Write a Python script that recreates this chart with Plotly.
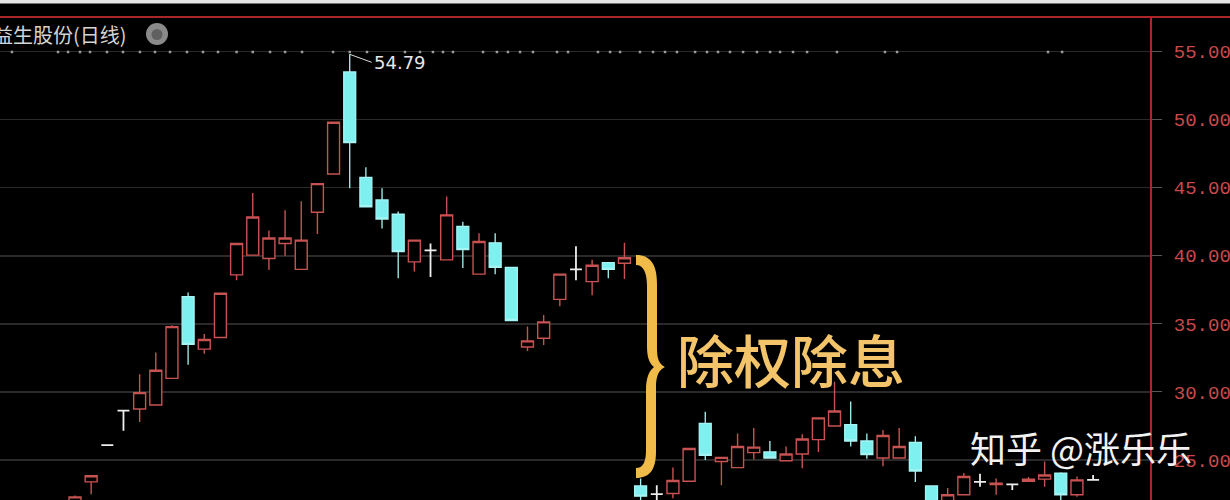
import plotly.graph_objects as go

# ---------------- data ----------------
idx = list(range(64))
opens = [21.8, 23.4, 26.1, 28.63, 28.75, 29.05, 31.0, 37.0, 33.15, 34.0,
         38.6, 40.05, 39.8, 40.9, 39.0, 43.2, 46.0, 53.5, 45.75, 44.1,
         43.05, 39.55, 40.4, 39.7, 42.15, 38.65, 40.95, 39.15, 33.3, 33.95,
         36.8, 39.0, 38.1, 39.5, 39.45, 23.1, 22.5, 22.55, 23.45, 27.7,
         24.9, 24.45, 25.55, 25.6, 24.95, 25.45, 26.5, 27.5, 27.6, 26.4,
         25.15, 25.15, 26.3, 23.1, 21.9, 22.45, 23.4, 23.2, 23.22, 23.45,
         23.6, 24.05, 22.45, 23.55]
highs = [22.4, 23.9, 26.1, 28.63, 31.3, 32.9, 34.9, 37.3, 34.25, 37.3,
         40.95, 44.6, 41.85, 43.35, 44.0, 45.35, 49.85, 54.79, 46.5, 44.95,
         43.25, 41.2, 40.9, 44.35, 42.5, 41.65, 41.65, 39.2, 34.8, 35.65,
         38.7, 40.7, 39.7, 39.55, 40.95, 23.65, 23.15, 24.45, 25.9, 28.55,
         25.25, 26.95, 27.35, 26.4, 26.0, 26.9, 28.15, 30.75, 29.3, 26.95,
         27.2, 27.35, 26.75, 23.15, 22.95, 24.05, 24.0, 23.65, 23.22, 23.75,
         24.9, 24.1, 23.8, 23.9]
lows = [21.5, 22.5, 26.1, 27.15, 27.8, 29.0, 30.95, 32.0, 32.8, 33.95,
        38.2, 40.0, 38.95, 40.0, 39.0, 41.6, 45.95, 44.95, 43.55, 42.0,
        38.35, 38.85, 38.45, 39.65, 39.1, 38.6, 38.65, 35.2, 33.0, 33.45,
        36.3, 38.2, 37.1, 38.35, 38.3, 22.0, 22.0, 22.2, 23.4, 25.0,
        23.15, 24.4, 25.05, 25.1, 24.9, 24.4, 25.6, 27.45, 26.0, 25.1,
        24.55, 25.1, 23.4, 21.5, 21.8, 22.4, 23.05, 22.45, 22.8, 23.4,
        23.05, 22.0, 22.3, 23.55]
closes = [22.3, 23.85, 26.1, 28.63, 29.95, 31.6, 34.8, 33.5, 33.85, 37.25,
          40.9, 42.85, 41.3, 41.3, 41.15, 45.3, 49.8, 48.3, 43.6, 42.7,
          40.3, 41.15, 40.4, 43.0, 40.45, 41.05, 39.15, 35.25, 33.75, 35.15,
          38.65, 39.0, 39.3, 39.0, 39.85, 22.35, 22.5, 23.5, 25.85, 25.35,
          25.2, 26.0, 25.95, 25.15, 25.45, 26.55, 28.1, 28.6, 26.4, 25.4,
          26.8, 26.0, 24.2, 21.8, 22.45, 23.8, 23.4, 23.3, 23.22, 23.6,
          23.9, 22.45, 23.55, 23.55]

y_ticks = [25, 30, 35, 40, 45, 50, 55]
y_tick_labels = ["25.00", "30.00", "35.00", "40.00", "45.00", "50.00", "55.00"]

peak_index = 17
peak_label = "54.79"

marker_pos = [-3.9, -1.05, -0.43, 0.31, 0.93, 1.98, 2.97, 4.02, 4.95, 5.88,
              6.93, 7.92, 8.85, 10.0, 11.0, 12.07, 13.0, 14.05, 15.97, 17.0,
              18.07, 20.42, 21.35, 22.15, 22.77, 23.39, 25.25, 26.11, 26.79,
              27.54, 28.34, 29.83, 30.51, 32.36, 33.11, 33.73, 34.96, 35.77,
              36.51, 37.25, 38.37, 39.11, 39.79, 40.53, 41.34, 42.2, 43.01,
              43.63, 44.43, 45.3, 47.15, 50.12, 50.87, 60.21, 61.08]

title_text = "益生股份(日线)"
event_text = "除权除息"
watermark_text = "知乎 @涨乐乐"

# ---------------- layout geometry ----------------
W, H = 1230, 500
ML, MR, MT, MB = 0, 80, 17, 0
PW = W - ML - MR
PH = H - MT - MB
X_RANGE = [-4.64, 66.52]
Y_RANGE = [22.07, 57.53]


def px(x):
    return (x - ML) / PW


def py(y):
    return (H - MB - y) / PH


RED = "#c85252"
CYAN = "#7ff0f0"
CYAN_LINE = "#a6f4f4"
WHITE = "#eeeeee"
GOLD = "#f1bb4a"


def subset(cond):
    s = [i for i in idx if cond(opens[i], closes[i])]
    return dict(x=s,
                open=[opens[i] for i in s],
                high=[highs[i] for i in s],
                low=[lows[i] for i in s],
                close=[closes[i] for i in s])


up = subset(lambda o, c: c > o)
down = subset(lambda o, c: c < o)
flat = subset(lambda o, c: c == o)

fig = go.Figure()

# marker row near the top
mark_y = Y_RANGE[1] - (52 - MT) / PH * (Y_RANGE[1] - Y_RANGE[0])
fig.add_trace(go.Scatter(x=marker_pos, y=[mark_y] * len(marker_pos), mode="markers",
                         marker=dict(symbol="square", size=2.5, color="#9c9c9c"),
                         hoverinfo="skip", showlegend=False))

fig.add_trace(go.Candlestick(
    **up, whiskerwidth=0,
    increasing=dict(line=dict(color=RED, width=1.4), fillcolor="#000000"),
    decreasing=dict(line=dict(color=RED, width=1.4), fillcolor="#000000"),
    showlegend=False, hoverinfo="skip"))
fig.add_trace(go.Candlestick(
    **down, whiskerwidth=0,
    increasing=dict(line=dict(color=CYAN_LINE, width=1.3), fillcolor=CYAN),
    decreasing=dict(line=dict(color=CYAN_LINE, width=1.3), fillcolor=CYAN),
    showlegend=False, hoverinfo="skip"))
fig.add_trace(go.Candlestick(
    **flat, whiskerwidth=0,
    increasing=dict(line=dict(color=WHITE, width=1.8), fillcolor=WHITE),
    decreasing=dict(line=dict(color=WHITE, width=1.8), fillcolor=WHITE),
    showlegend=False, hoverinfo="skip"))

# peak label
fig.add_annotation(x=peak_index, y=highs[peak_index], xref="x", yref="y",
                   text=peak_label, showarrow=True, arrowhead=0, arrowwidth=1,
                   arrowcolor="#dddddd", ax=22, ay=8, xanchor="left", yanchor="middle",
                   font=dict(color="#e6e6e6", size=18, family="DejaVu Sans"))

# title
fig.add_annotation(x=px(-9), y=py(35), xref="paper", yref="paper", text=title_text,
                   showarrow=False, xanchor="left", yanchor="middle",
                   font=dict(color="#d4d4d4", size=20, family="Noto Sans CJK SC"))

# event text
fig.add_annotation(x=px(791), y=py(358), xref="paper", yref="paper", text=event_text,
                   showarrow=False, xanchor="center", yanchor="middle",
                   font=dict(color="#f3c46a", size=57, family="Noto Sans CJK SC", weight=500))

# watermark
fig.add_annotation(x=px(1081), y=py(447), xref="paper", yref="paper", text=watermark_text,
                   showarrow=False, xanchor="center", yanchor="middle",
                   font=dict(color="#f2f2f2", size=36, family="Noto Sans CJK SC"))

# brace path
brace_pts = [
    ("M", [(636, 255)]),
    ("C", [(651, 255), (657, 265), (657, 284)]),
    ("L", [(657, 348)]),
    ("C", [(657, 359), (659, 364), (665, 367)]),
    ("C", [(659, 370), (656, 375), (656, 388)]),
    ("L", [(656, 452)]),
    ("C", [(656, 469), (650, 478), (636, 478)]),
    ("L", [(636, 468)]),
    ("C", [(643, 468), (646, 462), (646, 450)]),
    ("L", [(646, 390)]),
    ("C", [(646, 378), (649, 371), (654, 367)]),
    ("C", [(649, 363), (647, 357), (647, 346)]),
    ("L", [(647, 286)]),
    ("C", [(647, 272), (643, 265), (636, 265)]),
]
path = ""
for cmd, pts in brace_pts:
    path += cmd + " " + " ".join(f"{px(a):.5f},{py(b):.5f}" for a, b in pts) + " "
path += "Z"

shapes = [
    dict(type="path", path=path, xref="paper", yref="paper",
         fillcolor=GOLD, line=dict(width=0), layer="above"),
    # top white strip
    dict(type="rect", xref="paper", yref="paper", x0=0, x1=W / PW, y0=py(3.5), y1=py(0),
         fillcolor="#e6e6e6", line=dict(width=0)),
    # top red line
    dict(type="line", xref="paper", yref="paper", x0=0, x1=W / PW, y0=py(17), y1=py(17),
         line=dict(color="#a82828", width=2)),
    # icon
    dict(type="circle", xref="paper", yref="paper", x0=px(146), x1=px(168),
         y0=py(45), y1=py(23), fillcolor="#8a8a8a", line=dict(width=0)),
    dict(type="circle", xref="paper", yref="paper", x0=px(151.5), x1=px(162.5),
         y0=py(40), y1=py(29), fillcolor="#606060", line=dict(width=0)),
]

fig.update_layout(
    width=W, height=H,
    margin=dict(l=ML, r=MR, t=MT, b=MB, pad=0),
    paper_bgcolor="#000000", plot_bgcolor="#000000",
    showlegend=False, hovermode=False,
    font=dict(family="Noto Sans CJK SC"),
    boxgap=0.26, boxgroupgap=0,
    shapes=shapes,
    xaxis=dict(range=X_RANGE, visible=False, showgrid=False, zeroline=False,
               rangeslider=dict(visible=False), fixedrange=True),
    yaxis=dict(range=Y_RANGE, side="right", tickvals=y_ticks, ticktext=y_tick_labels,
               showgrid=True, gridcolor="#2a2a2a", gridwidth=1.5, zeroline=False,
               showline=True, linecolor="#a82828", linewidth=2,
               ticks="outside", ticklen=10, tickcolor="#555555", tickwidth=1,
               ticklabelstandoff=8,
               tickfont=dict(color="#c84a4a", size=19, family="Liberation Mono"),
               fixedrange=True),
)

fig.write_html("out.html", config={"displayModeBar": False, "staticPlot": True},
               post_script="document.body.style.margin='0';document.body.style.padding='0';"
                           "document.body.style.background='#000';")
